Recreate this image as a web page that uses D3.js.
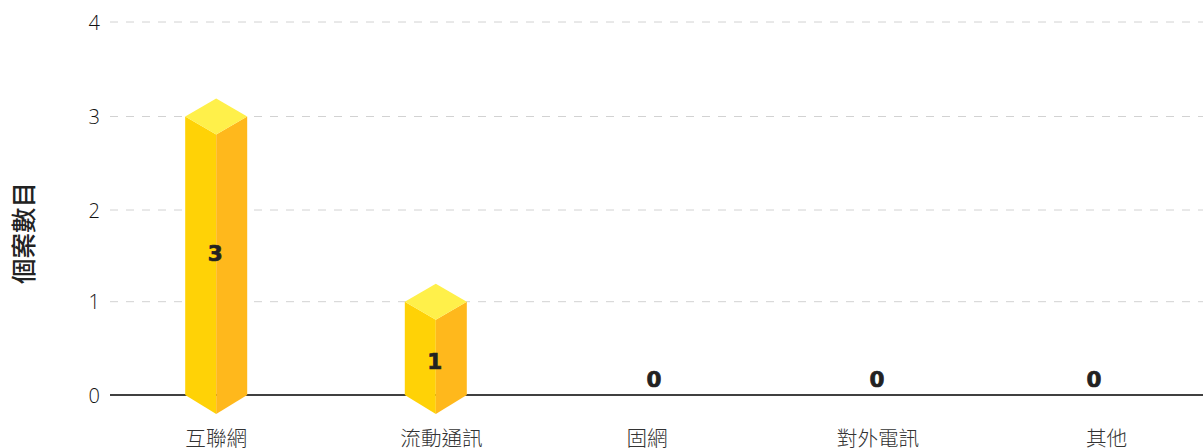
<!DOCTYPE html>
<html>
<head>
<meta charset="utf-8">
<script src="https://cdn.jsdelivr.net/npm/d3@7"></script>
<style>
	html, body { margin: 0; padding: 0; background: #fff; overflow: hidden; }
	svg { display: block; }
</style>
</head>
<body>
<div id="chart"></div>
<script>
var categories = ["互聯網", "流動通訊", "固網", "對外電訊", "其他"];
var caseCounts = [3, 1, 0, 0, 0];
var yTicks = [0, 1, 2, 3, 4];
var yTitle = "個案數目";

var width = 1203, height = 448;
var left = 110;
var cjk = "'Open Sans', 'Noto Sans CJK TC', sans-serif";

var svg = d3.select("#chart").append("svg")
	.attr("width", width)
	.attr("height", height);

var x = d3.scalePoint()
	.domain(categories)
	.range([216.2, 1094.6]);

// the original's gridlines are not quite evenly spaced
var y = d3.scaleLinear()
	.domain(yTicks)
	.range([395, 301.7, 210, 116.5, 22]);

// dashed grid
svg.append("g").selectAll("line")
	.data(yTicks.filter(function (d) { return d > 0; }))
	.enter().append("line")
	.attr("x1", left)
	.attr("x2", width)
	.attr("y1", function (d) { return y(d); })
	.attr("y2", function (d) { return y(d); })
	.attr("stroke", "#d2d2d2")
	.attr("stroke-dasharray", "8,8");

// baseline
svg.append("line")
	.attr("x1", left)
	.attr("x2", width)
	.attr("y1", y(0))
	.attr("y2", y(0))
	.attr("stroke", "#000000")
	.attr("stroke-width", 1.5);

svg.append("g").selectAll("text")
	.data(yTicks)
	.enter().append("text")
	.attr("x", 100)
	.attr("y", function (d) { return y(d) + 7.5; })
	.attr("text-anchor", "end")
	.attr("font-family", cjk)
	.attr("font-size", 20)
	.attr("font-weight", 300)
	.attr("fill", "#111111")
	.text(function (d) { return d; });

// category labels sit a little off the bar centres in the original
var labelShift = {"流動通訊": 5.7, "固網": -8.4, "對外電訊": 3, "其他": 12};
svg.append("g").selectAll("text")
	.data(categories)
	.enter().append("text")
	.attr("x", function (d) { return x(d) + (labelShift[d] || 0); })
	.attr("y", 445.5)
	.attr("text-anchor", "middle")
	.attr("font-family", cjk)
	.attr("font-size", 20.6)
	.attr("font-weight", 300)
	.attr("fill", "#333333")
	.text(function (d) { return d; });

svg.append("text")
	.attr("transform", "translate(32.5,233) rotate(-90)")
	.attr("text-anchor", "middle")
	.attr("font-family", cjk)
	.attr("font-size", 25.5)
	.attr("font-weight", 500)
	.attr("fill", "#222222")
	.text(yTitle);

// 3d bars
var halfW = 31, depth = 18;
var bars = svg.append("g").selectAll("g")
	.data(categories.map(function (c, i) { return {cat: c, val: caseCounts[i]}; }).filter(function (d) { return d.val > 0; }))
	.enter().append("g");

bars.append("polygon")
	.attr("fill", "#ffd206")
	.attr("points", function (d) {
		var c = x(d.cat), t = y(d.val), b = y(0);
		return [[c - halfW, t], [c, t + depth], [c, b + depth + 1], [c - halfW, b]].join(" ");
	});

bars.append("polygon")
	.attr("fill", "#ffb81c")
	.attr("points", function (d) {
		var c = x(d.cat), t = y(d.val), b = y(0);
		return [[c + halfW, t], [c, t + depth], [c, b + depth + 1], [c + halfW, b]].join(" ");
	});

bars.append("polygon")
	.attr("fill", "#fff04a")
	.attr("points", function (d) {
		var c = x(d.cat), t = y(d.val);
		return [[c - halfW, t], [c, t - depth], [c + halfW, t], [c, t + depth]].join(" ");
	});

// value labels, placed by hand in the original so they are not centred on anything
var valueDx = [-1, -1, -1.4, 2, -0.6];
var valueBase = [261, 369, 387, 387, 387];
svg.append("g").selectAll("text")
	.data(caseCounts)
	.enter().append("text")
	.attr("x", function (d, i) { return x(categories[i]) + valueDx[i]; })
	.attr("y", function (d, i) { return valueBase[i]; })
	.attr("text-anchor", "middle")
	.attr("font-family", "'DejaVu Sans', sans-serif")
	.attr("font-size", 21.5)
	.attr("font-weight", 700)
	.attr("fill", "#222222")
	.attr("stroke", "#222222")
	.attr("stroke-width", 0.7)
	.text(function (d) { return d; });
</script>
</body>
</html>
